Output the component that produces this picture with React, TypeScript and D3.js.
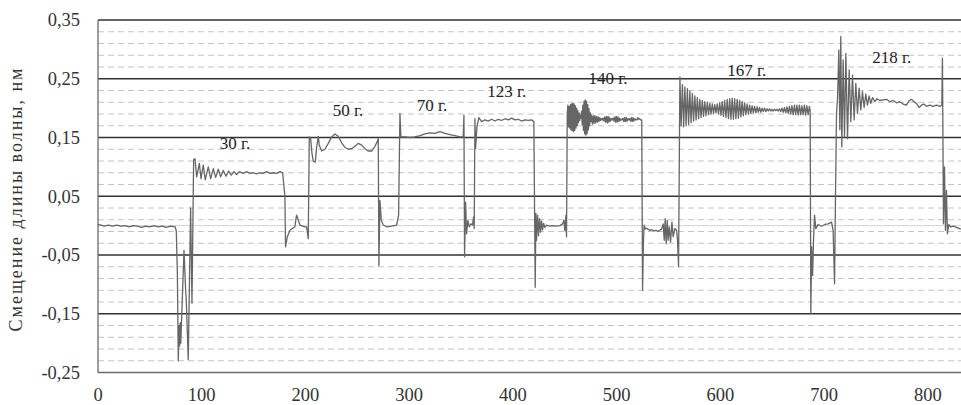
import React from "react";
import * as d3 from "d3";

// axis ticks
const yMajor = [-0.25, -0.15, -0.05, 0.05, 0.15, 0.25, 0.35];
const yMinor = [
  -0.23, -0.21, -0.19, -0.17, -0.13, -0.11, -0.09, -0.07, -0.03, -0.01, 0.01, 0.03,
  0.07, 0.09, 0.11, 0.13, 0.17, 0.19, 0.21, 0.23, 0.27, 0.29, 0.31, 0.33,
];
const xTicks = [0, 100, 200, 300, 400, 500, 600, 700, 800];

// load annotations: [label, t, value]
const loads: [string, number, number][] = [
  ["30 г.", 132, 0.13],
  ["50 г.", 241, 0.186],
  ["70 г.", 322, 0.195],
  ["123 г.", 394, 0.219],
  ["140 г.", 491.6, 0.241],
  ["167 г.", 625.5, 0.255],
  ["218 г.", 765.3, 0.277],
];

// signal: [t, shift]
const idle0 = [
  [0, 0.002], [3, 0.001], [6, -0.001], [10, 0.001], [14, -0.001], [18, 0.001], [22, -0.001],
  [26, 0.0], [30, -0.002], [34, 0.0], [38, -0.001], [42, -0.003], [46, -0.001], [50, -0.002],
  [54, 0.0], [58, -0.002], [62, -0.001], [66, -0.003], [70, -0.001], [74.5, -0.002],
];
const drop30 = [
  [75.5, -0.01], [76.5, -0.08], [77.4, -0.23], [78.2, -0.17], [78.7, -0.205], [79.3, -0.165],
  [79.8, -0.2], [82.9, -0.042], [84.5, -0.11], [85, -0.122], [87, -0.228], [89.3, 0.03],
  [90.6, -0.132], [92.2, 0.112], [93.5, 0.114],
];
const load30 = [
  [95.1, 0.083], [97.7, 0.106], [99.3, 0.08], [101.5, 0.103], [103.4, 0.078], [106.3, 0.1],
  [108.6, 0.08], [111.2, 0.097], [113.4, 0.082], [116, 0.096], [118.2, 0.083], [120.8, 0.094],
  [123.4, 0.084], [125.9, 0.093], [128.5, 0.086], [131.1, 0.092], [133.7, 0.087], [136.2, 0.092],
  [140.1, 0.089], [143.3, 0.092], [146.5, 0.089], [149.7, 0.09], [152.9, 0.088], [156.1, 0.09],
  [159.3, 0.089], [162.6, 0.092], [165.8, 0.089], [169, 0.09], [172.2, 0.089], [175.4, 0.092],
  [178, 0.09], [180.2, 0.05],
];
const idle30 = [
  [180.8, -0.036], [182.5, -0.019], [185, -0.008], [189.8, -0.002], [191.4, 0.018], [194.7, 0.001],
  [199.5, -0.002], [201.1, -0.002], [202.7, -0.022],
];
const load50 = [
  [203.7, 0.151], [205, 0.148], [206.3, 0.123], [207.5, 0.11], [209.5, 0.108], [210.8, 0.134],
  [212.4, 0.152], [213.3, 0.137], [215.6, 0.127], [218.8, 0.13], [222, 0.14], [225.2, 0.151],
  [228.4, 0.156], [231.6, 0.152], [234.9, 0.141], [238.1, 0.133], [241.3, 0.13], [244.5, 0.131],
  [247.7, 0.135], [250.9, 0.14], [254.2, 0.137], [257.3, 0.131], [260.5, 0.127], [263.8, 0.127],
  [267, 0.135], [269.2, 0.143], [270.2, 0.148],
];
const idle50 = [
  [270.8, -0.068], [271.8, 0.043], [273.1, 0.009], [275, 0.001], [278.2, -0.002], [283, -0.001],
  [287.9, 0.001], [289.8, 0.018],
];
const load70 = [
  [291.1, 0.191], [292, 0.151], [295.9, 0.151], [300.7, 0.15], [305.5, 0.151], [310.4, 0.153],
  [315.2, 0.156], [320, 0.158], [324.8, 0.157], [329.6, 0.16], [334.5, 0.157], [339.3, 0.155],
  [344.1, 0.153], [348.9, 0.151], [352.1, 0.151], [352.8, 0.188],
];
const idle70 = [
  [353.4, -0.053], [354.4, 0.04], [355.3, -0.014], [356.6, 0.009], [357.9, -0.002], [359.5, 0.003],
  [361.1, 0.001], [362.1, 0.015], [362.7, -0.005],
];
const load123 = [
  [363.4, 0.182], [364, 0.131], [365.3, 0.168], [367.2, 0.184], [369.8, 0.177], [373, 0.18],
  [376.2, 0.178], [379.5, 0.181], [382.7, 0.178], [385.9, 0.181], [389.1, 0.179], [392.3, 0.182],
  [395.5, 0.18], [398.8, 0.183], [402, 0.18], [405.2, 0.181], [408.4, 0.178], [411.6, 0.18],
  [414.8, 0.179], [418, 0.18], [420.2, 0.177],
];
const idle123 = [
  [421.5, -0.105], [422.2, 0.021], [422.8, -0.025], [423.8, 0.018], [424.7, -0.017], [425.7, 0.012],
  [426.7, -0.011], [427.6, 0.008], [428.6, -0.007], [429.6, 0.004], [430.8, -0.003], [432.5, 0.001],
  [435.7, -0.001], [438.9, 0.0], [442.1, -0.001], [445.3, 0.0], [447.9, 0.003], [449.2, 0.009],
  [450.1, -0.009], [451.1, 0.018], [451.7, -0.019],
];
const load140 = [
  [452.4, 0.191], [453, 0.205], [453.6, 0.168], [454.2, 0.203], [454.8, 0.166], [455.4, 0.206],
  [456, 0.163], [456.6, 0.207], [457.2, 0.162], [457.8, 0.208], [458.4, 0.16], [459, 0.207],
  [459.6, 0.162], [460.2, 0.204], [460.8, 0.166], [461.4, 0.2], [462, 0.17], [462.6, 0.196],
  [463.2, 0.175], [463.8, 0.192], [464.4, 0.179], [465, 0.188], [465.6, 0.183],
  [466.2, 0.195], [466.8, 0.172], [467.4, 0.205], [468, 0.162], [468.6, 0.212], [469.2, 0.156],
  [469.8, 0.214], [470.4, 0.154], [471, 0.212], [471.6, 0.157], [472.2, 0.206], [472.8, 0.163],
  [473.4, 0.199], [474, 0.17], [474.6, 0.192], [475.2, 0.177],
  [475.8, 0.188], [476.6, 0.173], [477.4, 0.187], [478.2, 0.174], [479, 0.187], [479.8, 0.175],
  [480.6, 0.186], [481.4, 0.176], [482.2, 0.185], [483, 0.177], [483.8, 0.184], [484.6, 0.179],
  [485.4, 0.182], [486.2, 0.18], [487, 0.183], [487.8, 0.178], [488.6, 0.185], [489.4, 0.176],
  [490.2, 0.186], [491, 0.175], [491.8, 0.186], [492.6, 0.176], [493.4, 0.184], [494.2, 0.178],
  [495, 0.182], [495.8, 0.18], [496.6, 0.183], [497.4, 0.178], [498.2, 0.185], [499, 0.176],
  [499.8, 0.186], [500.6, 0.176], [501.4, 0.185], [502.2, 0.177], [503, 0.183], [503.8, 0.179],
  [504.6, 0.181], [505.4, 0.18], [506.2, 0.183], [507, 0.177], [507.8, 0.184], [508.6, 0.177],
  [509.4, 0.184], [510.2, 0.178], [511, 0.182], [511.8, 0.18], [512.6, 0.182], [513.4, 0.178],
  [514.2, 0.184], [515, 0.177], [515.8, 0.184], [516.6, 0.178], [517.4, 0.182], [518.2, 0.18],
  [519, 0.181], [519.8, 0.18], [520.6, 0.184], [521.4, 0.181], [522.2, 0.182], [523, 0.18],
  [524.2, 0.18],
];
const idle140 = [
  [525, -0.11], [525.8, -0.03], [526.5, 0.001], [527.3, -0.006], [528, -0.004], [530, -0.006],
  [532, -0.008], [534, -0.007], [536, -0.009], [538, -0.008], [540, -0.01], [543.3, -0.006],
  [544.9, 0.003], [545.9, -0.025], [546.8, 0.012], [547.8, -0.031], [548.8, 0.009], [549.7, -0.025],
  [550.7, -0.002], [552, -0.028], [553.3, 0.006], [554.5, -0.019], [556.1, -0.005], [557.8, -0.008],
  [558.7, -0.025], [559.7, -0.07],
];
const load167 = [
  [561, 0.253], [562.2, 0.17], [563.4, 0.24], [564.6, 0.168], [565.8, 0.236], [567, 0.17],
  [568.2, 0.233], [569.4, 0.172], [570.6, 0.229], [571.8, 0.175], [573, 0.225], [574.2, 0.178],
  [575.4, 0.221], [576.6, 0.18], [577.8, 0.218], [579, 0.182], [580.2, 0.215], [581.4, 0.184],
  [582.6, 0.213], [583.8, 0.186], [585, 0.211], [586.2, 0.187], [587.4, 0.21], [588.6, 0.189],
  [589.8, 0.208], [591, 0.19], [592.2, 0.207], [593.4, 0.191], [594.6, 0.206], [595.8, 0.192],
  [597, 0.207], [598.2, 0.19], [599.4, 0.209], [600.6, 0.188], [601.8, 0.211], [603, 0.186],
  [604.2, 0.213], [605.4, 0.184], [606.6, 0.215], [607.8, 0.182], [609, 0.216], [610.2, 0.181],
  [611.4, 0.217], [612.6, 0.181], [613.8, 0.216], [615, 0.182], [616.2, 0.215], [617.4, 0.183],
  [618.6, 0.213], [619.8, 0.185], [621, 0.211], [622.2, 0.187], [623.4, 0.209], [624.6, 0.189],
  [625.8, 0.207], [627, 0.19], [628.2, 0.205], [629.4, 0.191], [630.6, 0.204], [631.8, 0.192],
  [633, 0.203], [634.2, 0.192], [635.4, 0.202], [636.6, 0.193], [637.8, 0.201], [639, 0.193],
  [640.2, 0.2], [641.4, 0.194], [642.6, 0.2], [643.8, 0.194], [645, 0.199], [646.2, 0.195],
  [647.4, 0.199], [648.6, 0.195], [649.8, 0.198], [651, 0.195], [652.2, 0.198], [653.4, 0.196],
  [654.6, 0.198], [655.8, 0.195], [657, 0.199], [658.2, 0.194], [659.4, 0.2], [660.6, 0.193],
  [661.8, 0.201], [663, 0.192], [664.2, 0.202], [665.4, 0.191], [666.6, 0.203], [667.8, 0.19],
  [669, 0.204], [670.2, 0.189], [671.4, 0.205], [672.6, 0.189], [673.8, 0.205], [675, 0.188],
  [676.2, 0.205], [677.4, 0.189], [678.6, 0.204], [679.8, 0.189], [681, 0.205], [682.2, 0.188],
  [683.4, 0.204], [684.6, 0.189], [685.8, 0.203], [686.6, 0.196],
];
const idle167 = [
  [687.2, -0.15], [688, -0.036], [688.9, -0.085], [689.8, -0.025], [690.8, 0.018], [692, -0.005],
  [694.3, 0.002], [697.5, -0.001], [700.7, 0.002], [703.9, 0.003], [707.2, 0.006], [708.7, -0.008],
  [710.1, -0.099], [711, 0.049],
];
const load218 = [
  [712, 0.191], [713, 0.219], [714.2, 0.299], [715.2, 0.163], [716.1, 0.322], [717.1, 0.134],
  [718.4, 0.282], [719.7, 0.151], [721, 0.293], [722.6, 0.148], [724.2, 0.265], [725.8, 0.177],
  [727.4, 0.256], [729, 0.18], [730.6, 0.242], [732.2, 0.191], [733.8, 0.234], [735.4, 0.197],
  [737, 0.228], [738.6, 0.201], [740.2, 0.224], [741.8, 0.205], [743.4, 0.221], [745, 0.208],
  [746.7, 0.218], [748.9, 0.211], [751.1, 0.216], [753.7, 0.213], [756.9, 0.214], [760.2, 0.215],
  [763.4, 0.211], [766.6, 0.213], [769.8, 0.209], [773, 0.211], [776.2, 0.207], [779.4, 0.205],
  [782, 0.213], [784.3, 0.215], [786.5, 0.211], [789.1, 0.208], [791.6, 0.201], [793.9, 0.205],
  [796.1, 0.207], [798.7, 0.203], [801.9, 0.205], [805.1, 0.203], [808.4, 0.205], [811.6, 0.203],
  [813.5, 0.205], [814.1, 0.285],
];
const idleEnd = [
  [815.1, 0.003], [816.1, 0.1], [817, -0.008], [818, 0.06], [818.9, -0.014], [820.2, 0.002],
  [821.8, -0.002], [824.4, -0.001], [827.6, -0.003], [831.8, -0.006],
];

const signal = [
  ...idle0, ...drop30, ...load30, ...idle30, ...load50, ...idle50, ...load70, ...idle70,
  ...load123, ...idle123, ...load140, ...idle140, ...load167, ...idle167, ...load218, ...idleEnd,
] as [number, number][];

const W = 961;
const H = 405;
const left = 98;
const right = 961;
const top = 20;
const bottom = 372.5;
const font = "'Liberation Serif', 'Times New Roman', serif";

const fmt = (v: number) => d3.format(".2f")(v).replace(".", ",").replace("\u2212", "-");

export default function App() {
  const x = d3.scaleLinear().domain([0, 832]).range([left, right]);
  const y = d3.scaleLinear().domain([-0.25, 0.35]).range([bottom, top]);
  const line = d3
    .line<[number, number]>()
    .x((d) => x(d[0]))
    .y((d) => y(d[1]));

  return (
    <div style={{ position: "absolute", left: 0, top: 0 }}>
      <svg width={W} height={H} style={{ display: "block", background: "#fff" }}>
        {/* minor dashed grid */}
        {yMinor.map((v) => (
          <line
            key={"m" + v}
            x1={left}
            x2={right}
            y1={y(v)}
            y2={y(v)}
            stroke="#c4c4c4"
            strokeWidth={1}
            strokeDasharray="6,4"
          />
        ))}
        {/* zero line */}
        <line x1={left} x2={right} y1={y(0)} y2={y(0)} stroke="#d4d4d4" strokeWidth={1} />
        {/* major grid */}
        {yMajor.map((v) => (
          <line
            key={"M" + v}
            x1={left}
            x2={right}
            y1={y(v)}
            y2={y(v)}
            stroke={v === -0.25 ? "#6a6a6a" : "#333"}
            strokeWidth={1.3}
          />
        ))}
        <line x1={left} x2={left} y1={top} y2={bottom} stroke="#6a6a6a" strokeWidth={1.3} />

        <path d={line(signal) || ""} fill="none" stroke="#666" strokeWidth={1.3} strokeLinejoin="round" />

        {/* load labels */}
        {loads.map(([label, t, v]) => (
          <text key={label} x={x(t)} y={y(v)} textAnchor="middle" fontFamily={font} fontSize={17} fill="#222">
            {label}
          </text>
        ))}

        {/* y tick labels */}
        {yMajor.map((v) => (
          <text
            key={"yl" + v}
            x={80}
            y={y(v)}
            dy="0.35em"
            textAnchor="end"
            fontFamily={font}
            fontSize={18.5}
            fill="#333"
          >
            {fmt(v)}
          </text>
        ))}
        {/* x tick labels */}
        {xTicks.map((t) => (
          <text key={"xl" + t} x={x(t)} y={401} textAnchor="middle" fontFamily={font} fontSize={18.5} fill="#333">
            {t}
          </text>
        ))}

        <text
          transform={`translate(22,200) rotate(-90)`}
          textAnchor="middle"
          fontFamily={font}
          fontSize={18}
          fill="#333"
          textLength={263}
          lengthAdjust="spacing"
        >
          Смещение длины волны, нм
        </text>
      </svg>
    </div>
  );
}
